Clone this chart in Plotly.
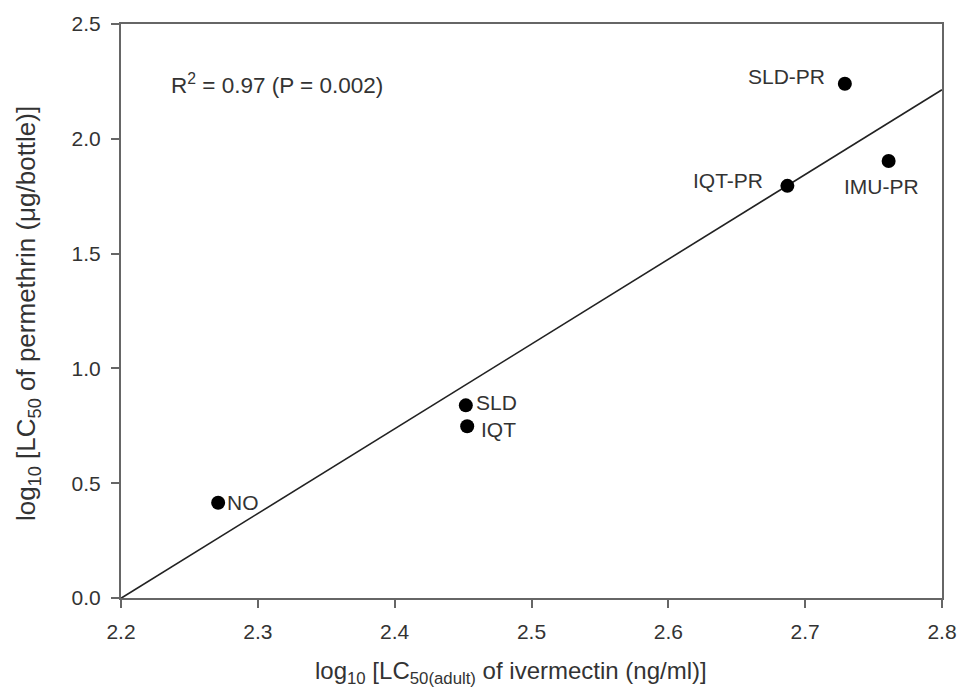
import numpy as np
import plotly.graph_objects as go

# Data
strains = ["NO", "SLD", "IQT", "IQT-PR", "SLD-PR", "IMU-PR"]
ivermectin_log = [2.271, 2.452, 2.453, 2.687, 2.729, 2.761]
permethrin_log = [0.415, 0.839, 0.748, 1.795, 2.240, 1.903]
x_ticks = [2.2, 2.3, 2.4, 2.5, 2.6, 2.7, 2.8]
y_ticks = [0.0, 0.5, 1.0, 1.5, 2.0, 2.5]
stats_text = "R<sup>2</sup> = 0.97 (P = 0.002)"
x_title = "log<sub>10</sub> [LC<sub>50(adult)</sub> of ivermectin (ng/ml)]"
y_title = "log<sub>10</sub> [LC<sub>50</sub> of permethrin (μg/bottle)]"

# label placement (styling only)
label_pos = {
    "NO": dict(xanchor="left", xshift=7, yshift=0),
    "SLD": dict(xanchor="left", xshift=8, yshift=3),
    "IQT": dict(xanchor="left", xshift=12, yshift=-3),
    "IQT-PR": dict(xanchor="right", xshift=-22, yshift=5),
    "SLD-PR": dict(xanchor="right", xshift=-18, yshift=7),
    "IMU-PR": dict(xanchor="center", xshift=-7, yshift=-25),
}

# linear regression from data
xa = np.array(ivermectin_log)
ya = np.array(permethrin_log)
slope, intercept = np.polyfit(xa, ya, 1)
xr = np.array([x_ticks[0], x_ticks[-1]])
yr = slope * xr + intercept

FONT = "Liberation Sans, Arial, sans-serif"
TXT = "#333333"
AX = "#666666"

fig = go.Figure()
fig.add_trace(go.Scatter(x=xr, y=yr, mode="lines",
                         line=dict(color="#222222", width=1.6),
                         showlegend=False, hoverinfo="skip", cliponaxis=True))
fig.add_trace(go.Scatter(x=ivermectin_log, y=permethrin_log, mode="markers",
                         marker=dict(color="black", size=14),
                         showlegend=False, text=strains))

for s, xv, yv in zip(strains, ivermectin_log, permethrin_log):
    p = label_pos[s]
    fig.add_annotation(x=xv, y=yv, text=s, showarrow=False,
                       xanchor=p["xanchor"], yanchor="middle",
                       xshift=p["xshift"], yshift=p["yshift"],
                       font=dict(family=FONT, size=21, color=TXT))

fig.add_annotation(xref="paper", yref="paper", x=0.058, y=0.895, text=stats_text,
                   showarrow=False, xanchor="left", yanchor="middle",
                   font=dict(family=FONT, size=22.5, color=TXT))

# axis titles
fig.add_annotation(xref="paper", yref="paper", x=0.4745, y=-0.13, text=x_title,
                   showarrow=False, xanchor="center", yanchor="middle",
                   font=dict(family=FONT, size=24, color=TXT))
fig.add_annotation(xref="paper", yref="paper", x=-0.113, y=0.495, text=y_title,
                   showarrow=False, xanchor="center", yanchor="middle", textangle=-90,
                   font=dict(family=FONT, size=26, color=TXT))

axis_common = dict(showgrid=False, zeroline=False, showline=True, linecolor=AX,
                   linewidth=2, mirror=True, ticks="outside", ticklen=8,
                   tickcolor=AX, tickwidth=2, ticklabelstandoff=6,
                   tickfont=dict(family=FONT, size=21, color=TXT))

fig.update_xaxes(range=[2.2, 2.8], tickvals=x_ticks,
                 ticktext=[f"{v:.1f}" for v in x_ticks], **axis_common)
fig.update_yaxes(range=[0, 2.5], tickvals=y_ticks,
                 ticktext=[f"{v:.1f}" for v in y_ticks], **axis_common)

fig.update_layout(width=969, height=700, plot_bgcolor="white", paper_bgcolor="white",
                  margin=dict(l=121, r=18, t=20, b=102), showlegend=False)

fig.write_html("out.html", config={"displayModeBar": False},
               post_script="document.body.style.margin='0';document.body.style.overflow='hidden';")
